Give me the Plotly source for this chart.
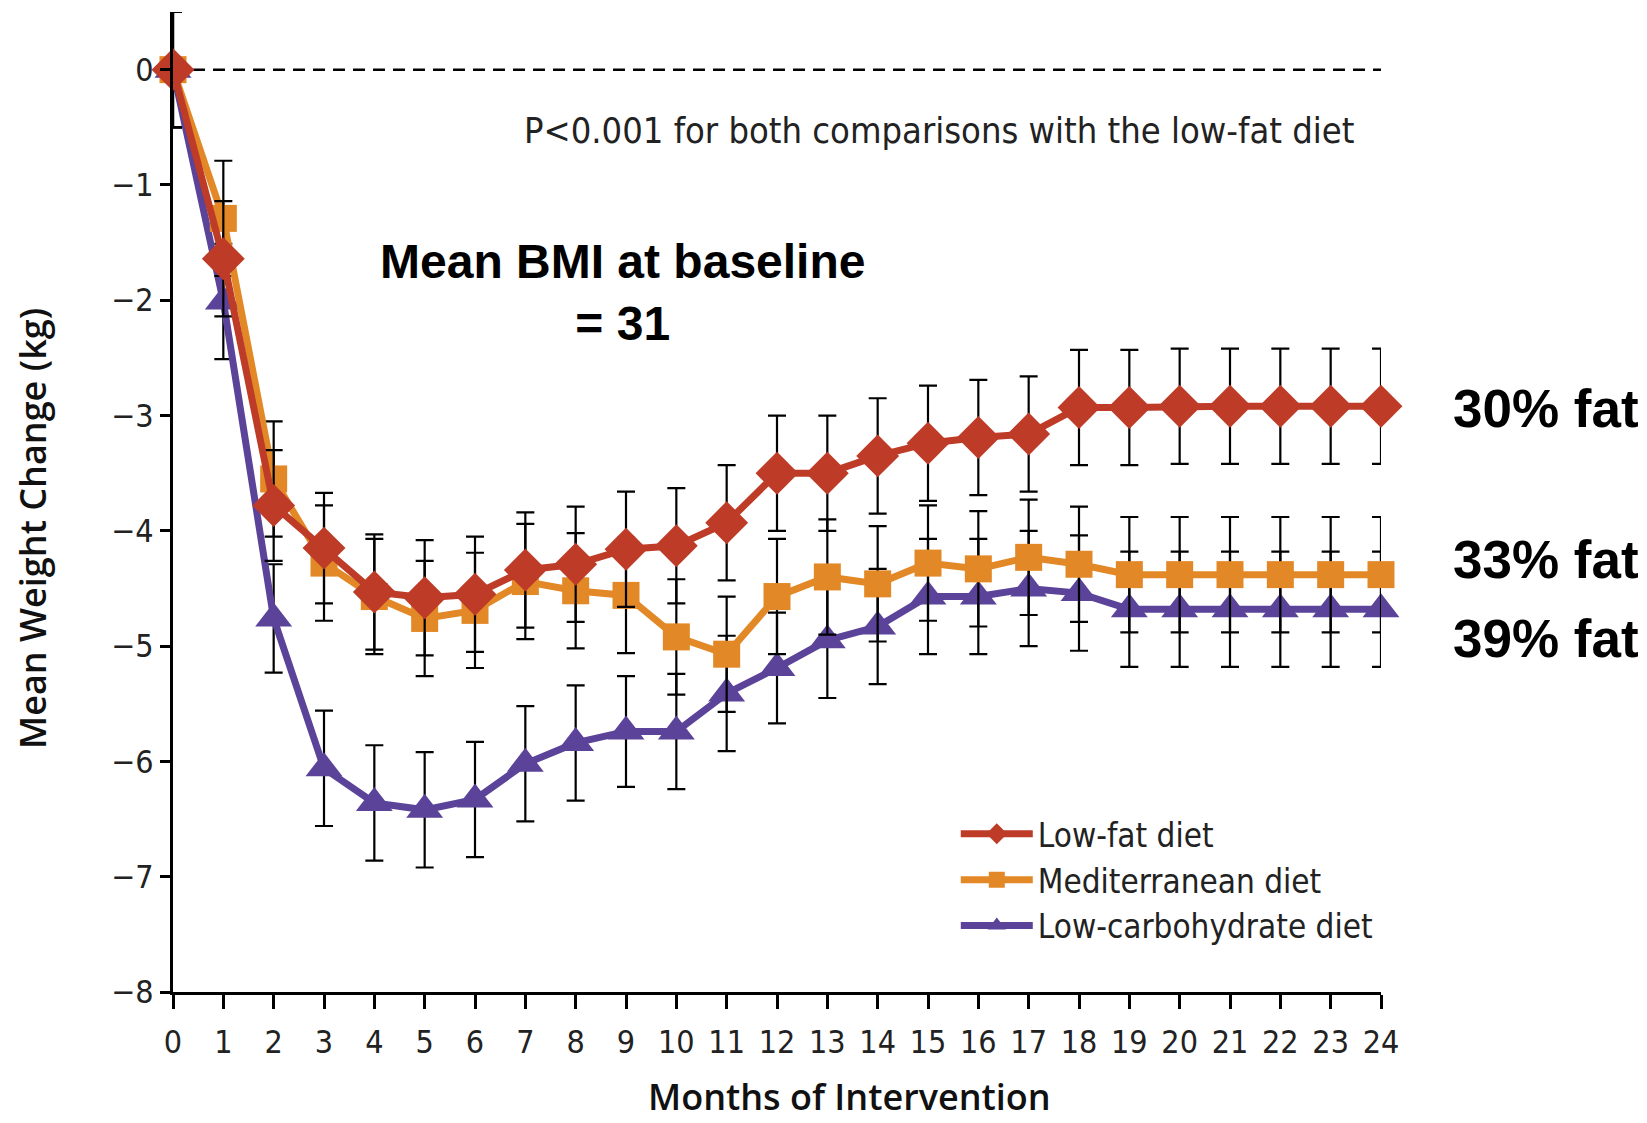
import plotly.graph_objects as go

# Months since start of the intervention
months = list(range(0, 25))

# Mean weight change (kg) per diet group
low_fat = [0, -1.64, -3.78, -4.15, -4.53, -4.58, -4.55, -4.34, -4.29, -4.16, -4.13,
           -3.93, -3.50, -3.50, -3.35, -3.24, -3.19, -3.16, -2.93, -2.93, -2.92,
           -2.92, -2.92, -2.92, -2.92]
mediterranean = [0, -1.29, -3.55, -4.28, -4.57, -4.76, -4.69, -4.44, -4.52, -4.56, -4.92,
                 -5.07, -4.57, -4.40, -4.46, -4.28, -4.33, -4.23, -4.29, -4.38, -4.38,
                 -4.38, -4.38, -4.38, -4.38]
low_carb = [0, -2.01, -4.76, -6.06, -6.36, -6.42, -6.33, -6.02, -5.84, -5.74, -5.74,
            -5.41, -5.19, -4.95, -4.83, -4.57, -4.57, -4.50, -4.54, -4.68, -4.68,
            -4.68, -4.68, -4.68, -4.68]

# Standard errors (kg)
low_fat_se = [0.5, 0.5, 0.48, 0.48, 0.5, 0.5, 0.5, 0.5, 0.5, 0.5, 0.5,
              0.5, 0.5, 0.5, 0.5, 0.5, 0.5, 0.5, 0.5, 0.5, 0.5,
              0.5, 0.5, 0.5, 0.5]
mediterranean_se = [0.5, 0.5, 0.5, 0.5, 0.5, 0.5, 0.5, 0.5, 0.5, 0.5, 0.5,
                    0.5, 0.5, 0.5, 0.5, 0.5, 0.5, 0.5, 0.5, 0.5, 0.5,
                    0.5, 0.5, 0.5, 0.5]
low_carb_se = [0.5, 0.5, 0.47, 0.5, 0.5, 0.5, 0.5, 0.5, 0.5, 0.48, 0.5,
               0.5, 0.48, 0.5, 0.5, 0.5, 0.5, 0.5, 0.5, 0.5, 0.5,
               0.5, 0.5, 0.5, 0.5]

series_names = ["Low-fat diet", "Mediterranean diet", "Low-carbohydrate diet"]
fat_labels = ["30% fat", "33% fat", "39% fat"]
fat_label_y = [-2.94, -4.25, -4.93]
y_ticks = [-8, -7, -6, -5, -4, -3, -2, -1, 0]

RED = "#BD3B27"
ORANGE = "#E38826"
PURPLE = "#5A4399"

LIGHT_FONT = "Liberation Sans Narrow, DejaVu Sans Condensed, Arial Narrow, sans-serif"
TITLE_FONT = "Open Sans, Lato, sans-serif"
BOLD_FONT = "Liberation Sans, Arial, Helvetica, sans-serif"

W, H = 1647, 1123
M_L, M_R, M_T, M_B = 173, 266, 12, 131
PLOT_W = W - M_L - M_R
PLOT_H = H - M_T - M_B

fig = go.Figure()


def add_series(name, y, se, color, symbol, size, rank):
    fig.add_trace(go.Scatter(
        x=months, y=y, name=name, mode="lines+markers",
        line=dict(color=color, width=7),
        marker=dict(symbol=symbol, size=size, color=color, line=dict(width=0)),
        error_y=dict(type="data", array=se, visible=True, color="black",
                     thickness=2.2, width=9),
        cliponaxis=False, legendrank=rank,
    ))


add_series(series_names[2], low_carb, low_carb_se, PURPLE, "triangle-up", 32, 3)
add_series(series_names[1], mediterranean, mediterranean_se, ORANGE, "square", 27, 2)
add_series(series_names[0], low_fat, low_fat_se, RED, "diamond", 33, 1)

# Reference line at zero change
fig.add_hline(y=0, line=dict(color="black", width=2.5, dash="12px,8px"), layer="below")

fig.add_annotation(x=23.5, y=-0.53, xref="x", yref="y", xanchor="right",
                   text="P&lt;0.001 for both comparisons with the low-fat diet",
                   showarrow=False, font=dict(family=LIGHT_FONT, size=36, color="#222"))

fig.add_annotation(x=8.93, y=-1.93, xref="x", yref="y",
                   text="<b>Mean BMI at baseline<br>= 31</b>", align="center",
                   showarrow=False, font=dict(family=BOLD_FONT, size=48, color="black"))

for label, yv in zip(fat_labels, fat_label_y):
    fig.add_annotation(x=1.058, y=yv, xref="paper", yref="y", xanchor="left",
                       text=f"<b>{label}</b>", showarrow=False,
                       font=dict(family=BOLD_FONT, size=53, color="black"))

# Axis titles, positioned in pixels and converted to paper units
fig.add_annotation(x=(850 - M_L) / PLOT_W, y=(H - M_B - 1096) / PLOT_H,
                   xref="paper", yref="paper", xanchor="center", yanchor="middle",
                   text="Months of Intervention", showarrow=False,
                   font=dict(family=TITLE_FONT, size=36, color="#111", weight=600))
fig.add_annotation(x=(32 - M_L) / PLOT_W, y=(H - M_B - 529) / PLOT_H,
                   xref="paper", yref="paper", xanchor="center", yanchor="middle",
                   textangle=-90,
                   text="Mean Weight Change (kg)", showarrow=False,
                   font=dict(family=TITLE_FONT, size=36, color="#111", weight=600))

fig.update_layout(
    width=W, height=H,
    margin=dict(l=M_L, r=M_R, t=M_T, b=M_B),
    plot_bgcolor="white", paper_bgcolor="white",
    showlegend=True,
    legend=dict(x=0.648, y=0.19, xanchor="left", yanchor="top",
                bgcolor="rgba(0,0,0,0)", font=dict(family=LIGHT_FONT, size=33, color="#222"),
                itemwidth=72, tracegroupgap=0),
    xaxis=dict(
        range=[0, 24], tickmode="array", tickvals=months,
        showline=True, linecolor="black", linewidth=3,
        ticks="outside", ticklen=14, tickwidth=2.5, tickcolor="black",
        showgrid=False, zeroline=False,
        tickfont=dict(family=LIGHT_FONT, size=32, color="#222"),
        ticklabelstandoff=6,
    ),
    yaxis=dict(
        range=[-8, 0.5], tickmode="array", tickvals=y_ticks,
        showline=True, linecolor="black", linewidth=3,
        ticks="outside", ticklen=10, tickwidth=2.5, tickcolor="black",
        showgrid=False, zeroline=False,
        tickfont=dict(family=LIGHT_FONT, size=32, color="#222"),
    ),
)

fig.write_html("out.html")
